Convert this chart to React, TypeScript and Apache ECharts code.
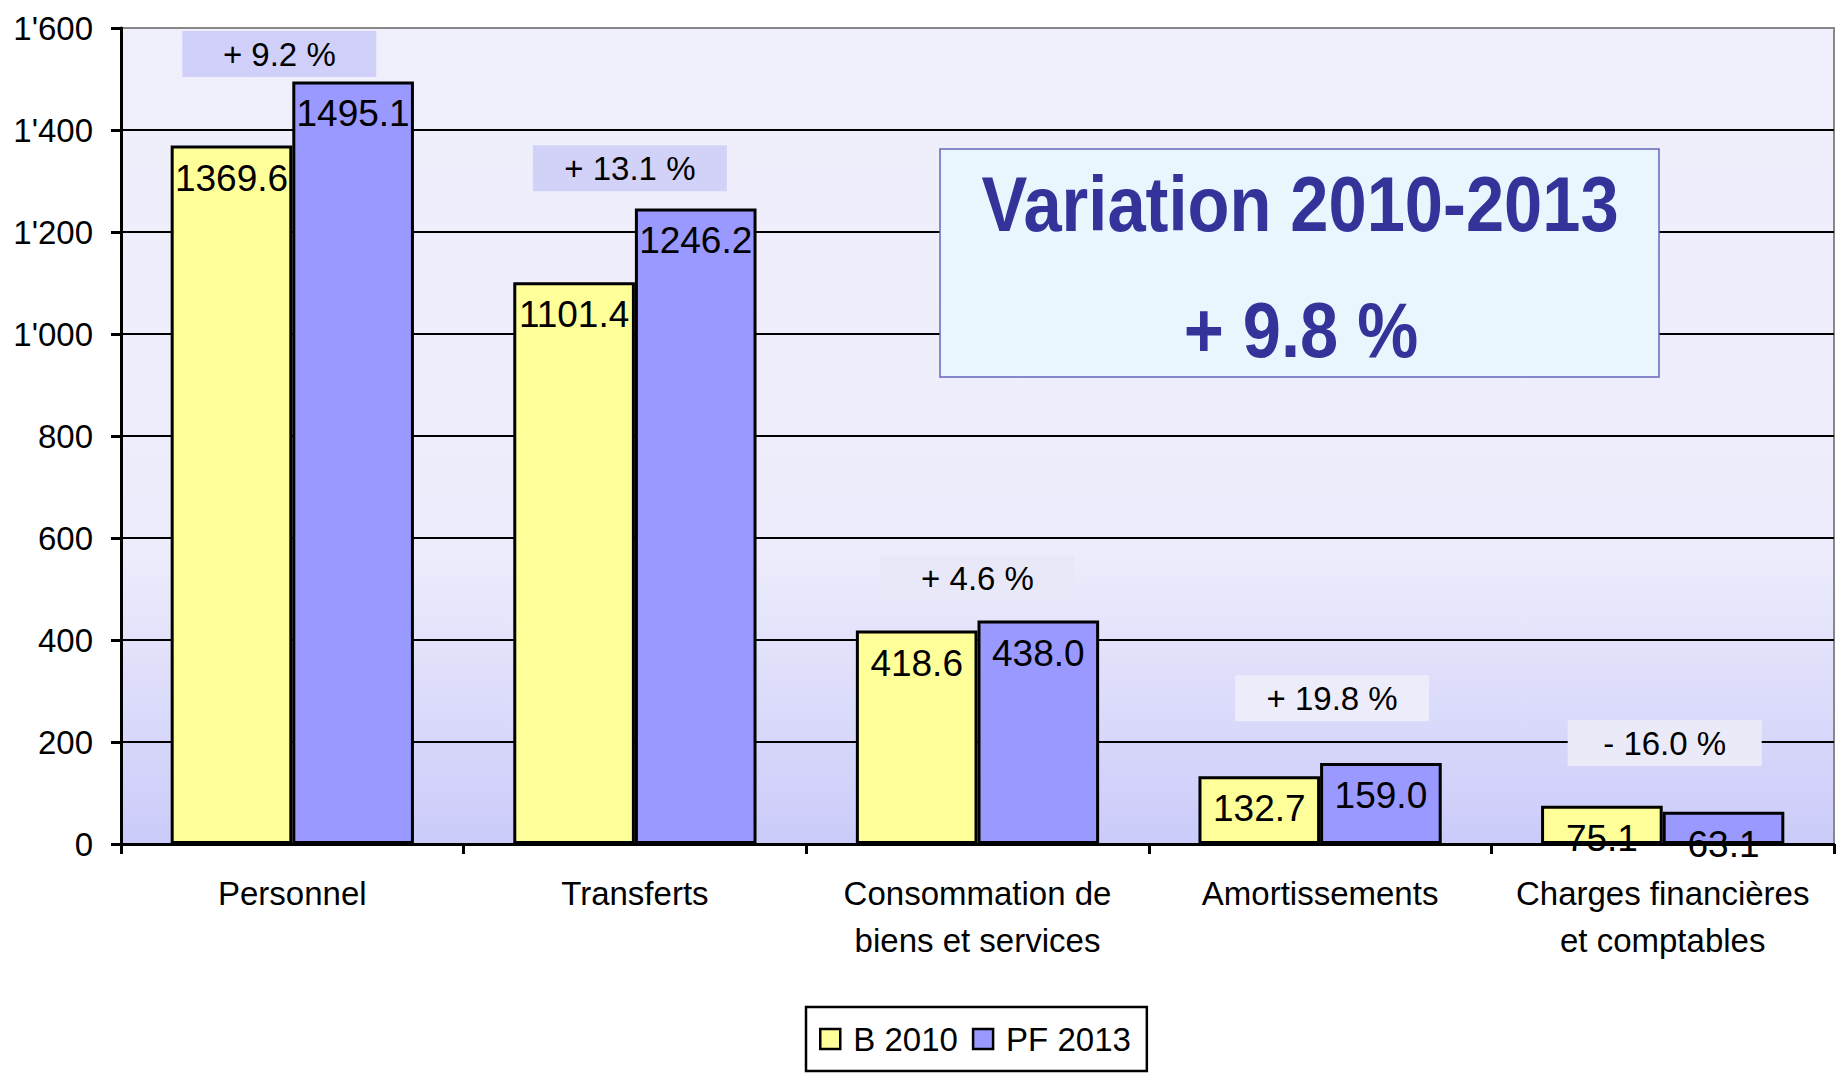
import React, { useEffect, useRef } from "react";
import * as echarts from "echarts";

const categories = [
  "Personnel",
  "Transferts",
  "Consommation de\nbiens et services",
  "Amortissements",
  "Charges financières\net comptables",
];
const seriesNames = ["B 2010", "PF 2013"];
const b2010 = [1369.6, 1101.4, 418.6, 132.7, 75.1];
const pf2013 = [1495.1, 1246.2, 438.0, 159.0, 63.1];
const changeLabels = ["+ 9.2 %", "+ 13.1 %", "+ 4.6 %", "+ 19.8 %", "- 16.0 %"];
const changeLabelLevels = [1549, 1325, 521, 286, 198];
const yTickLabels = ["0", "200", "400", "600", "800", "1'000", "1'200", "1'400", "1'600"];
const boxTitle = "Variation 2010-2013";
const boxValue = "+ 9.8 %";

const FONT = "'Liberation Sans', Arial, Helvetica, sans-serif";
const changeBoxColors = ["#D0D0FA", "#D2D2F8", "#E8E8F9", "#ECECFA", "#EAEAF8"];
const changeOffsets = [-13, -5, 0, 12, 2];

export default function App() {
  const ref = useRef<HTMLDivElement>(null);

  useEffect(() => {
    if (!ref.current) return;
    const chart = echarts.init(ref.current, null, { renderer: "svg" });

    const barLabel = {
      show: true,
      position: "insideTop",
      distance: 14,
      fontFamily: FONT,
      fontSize: 37,
      color: "#000000",
      formatter: (p: any) => Number(p.value).toFixed(1),
    };

    const option: any = {
      animation: false,
      textStyle: { fontFamily: FONT },
      grid: {
        left: 121,
        right: 9,
        top: 28,
        bottom: 237,
        show: true,
        borderColor: "#888888",
        borderWidth: 2,
        backgroundColor: new echarts.graphic.LinearGradient(0, 0, 0, 1, [
          { offset: 0, color: "#F0F0FC" },
          { offset: 0.65, color: "#ECECFC" },
          { offset: 1, color: "#CBCBFA" },
        ]),
      },
      legend: {
        data: seriesNames,
        left: 806,
        top: 1007,
        orient: "horizontal",
        backgroundColor: "#FFFFFF",
        borderColor: "#000000",
        borderWidth: 2.5,
        borderRadius: 0,
        padding: [13, 16, 13, 13],
        itemGap: 14,
        itemWidth: 20,
        itemHeight: 20,
        icon: "rect",
        itemStyle: { borderColor: "#000000", borderWidth: 2.5 },
        textStyle: {
          fontFamily: FONT,
          fontSize: 33,
          color: "#000000",
          lineHeight: 38,
          padding: [0, 0, 0, 8],
        },
      },
      xAxis: {
        type: "category",
        data: categories,
        boundaryGap: true,
        axisLine: { show: true, lineStyle: { color: "#000000", width: 3 } },
        axisTick: { show: true, length: 10, lineStyle: { color: "#000000", width: 3 } },
        axisLabel: {
          fontFamily: FONT,
          fontSize: 33,
          color: "#000000",
          lineHeight: 47,
          margin: 26,
          interval: 0,
        },
        splitLine: { show: false },
      },
      yAxis: {
        type: "value",
        min: 0,
        max: 1600,
        interval: 200,
        axisLine: { show: true, lineStyle: { color: "#000000", width: 3 } },
        axisTick: { show: true, length: 10, lineStyle: { color: "#000000", width: 3 } },
        axisLabel: {
          fontFamily: FONT,
          fontSize: 33,
          color: "#000000",
          margin: 28,
          formatter: (v: number) => yTickLabels[Math.round(v / 200)] ?? String(v),
        },
        splitLine: {
          show: true,
          lineStyle: {
            color: ["#000000", "#000000", "#000000", "#000000", "#000000", "#000000", "#000000", "#000000", "#888888"],
            width: 2,
          },
        },
      },
      series: [
        {
          name: seriesNames[0],
          type: "bar",
          data: b2010,
          barGap: "0%",
          barCategoryGap: "29%",
          itemStyle: { color: "#FFFF99", borderColor: "#000000", borderWidth: 3 },
          label: barLabel,
        },
        {
          name: seriesNames[1],
          type: "bar",
          data: pf2013,
          barGap: "0%",
          barCategoryGap: "29%",
          itemStyle: { color: "#9999FF", borderColor: "#000000", borderWidth: 3 },
          label: barLabel,
        },
        {
          name: "variation",
          type: "scatter",
          symbol: "rect",
          symbolSize: 1,
          silent: true,
          z: 5,
          data: changeLabelLevels.map((v, i) => ({
            value: v,
            itemStyle: { color: changeBoxColors[i], opacity: 1 },
            label: {
              show: true,
              position: "inside",
              offset: [changeOffsets[i], 0],
              formatter: changeLabels[i],
              fontFamily: FONT,
              fontSize: 33,
              color: "#000000",
              opacity: 1,
              textBorderWidth: 0,
              backgroundColor: changeBoxColors[i],
              width: 194,
              height: 46,
              lineHeight: 52,
              align: "center",
              verticalAlign: "middle",
            },
          })),
        },
      ],
      graphic: [
        {
          type: "rect",
          z: 100,
          zlevel: 0,
          shape: { x: 940, y: 149, width: 719, height: 228 },
          style: { fill: "#EAF6FE", stroke: "#6666BB", lineWidth: 1.5 },
        },
        {
          type: "text",
          z: 101,
          x: 1300,
          y: 204,
          scaleX: 0.88,
          style: {
            text: boxTitle,
            font: `bold 78px ${FONT}`,
            fill: "#333399",
            textAlign: "center",
            textVerticalAlign: "middle",
          },
        },
        {
          type: "text",
          z: 101,
          x: 1301,
          y: 330,
          scaleX: 0.88,
          style: {
            text: boxValue,
            font: `bold 78px ${FONT}`,
            fill: "#333399",
            textAlign: "center",
            textVerticalAlign: "middle",
          },
        },
      ],
    };

    chart.setOption(option);
    return () => chart.dispose();
  }, []);

  return (
    <div
      ref={ref}
      style={{ position: "fixed", left: 0, top: 0, width: 1843, height: 1081, background: "#FFFFFF" }}
    />
  );
}
